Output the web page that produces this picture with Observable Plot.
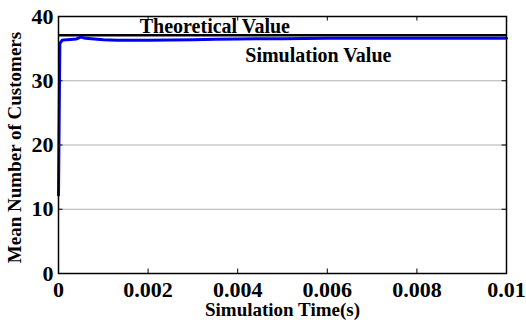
<!DOCTYPE html>
<html><head><meta charset="utf-8">
<script src="https://cdn.jsdelivr.net/npm/d3@7"></script>
<script src="https://cdn.jsdelivr.net/npm/@observablehq/plot@0.6"></script>
<style>
html,body{margin:0;padding:0;background:#fff;}
svg{font-family:"Liberation Serif","Times New Roman",serif;}
</style></head><body><div id="chart"></div>
<script>
const simTime = [0, 0.00003, 0.00008, 0.0002, 0.0004, 0.0005, 0.0006, 0.0008, 0.001, 0.0013, 0.0015, 0.002, 0.0025, 0.003, 0.0035, 0.004, 0.005, 0.006, 0.007, 0.008, 0.009, 0.01];
const simValue = [12.2, 35.8, 36.3, 36.4, 36.5, 36.8, 36.6, 36.5, 36.4, 36.3, 36.3, 36.3, 36.35, 36.4, 36.45, 36.5, 36.55, 36.6, 36.6, 36.6, 36.6, 36.6];
const theoreticalValue = 37.1;
const xTicks = [0, 0.002, 0.004, 0.006, 0.008, 0.01];
const yTicks = [0, 10, 20, 30, 40];
const gridValues = [10, 20, 30];
const xTitle = "Simulation Time(s)";
const yTitle = "Mean Number of Customers";

const sim = simTime.map((t, i) => ({t, v: simValue[i]}));
const fmtX = d => d === 0 ? "0" : String(+d.toFixed(3));
const serif = "Liberation Serif, Times New Roman, serif";

const chart = Plot.plot({
  width: 526, height: 323,
  marginLeft: 58, marginRight: 20, marginTop: 16, marginBottom: 50,
  style: {fontFamily: serif, color: "#000"},
  x: {domain: [0, 0.01], axis: null},
  y: {domain: [0, 40], axis: null},
  marks: [
    Plot.ruleY(gridValues, {stroke: "#b0b0b0", strokeWidth: 1}),
    Plot.ruleX(xTicks, {y1: 0, y2: 0.7, stroke: "#000"}),
    Plot.ruleX(xTicks, {y1: 39.3, y2: 40, stroke: "#000"}),
    Plot.ruleY(yTicks, {x1: 0, x2: 0.0001, stroke: "#000"}),
    Plot.ruleY(yTicks, {x1: 0.0099, x2: 0.01, stroke: "#000"}),
    Plot.ruleY([theoreticalValue], {stroke: "#000", strokeWidth: 2.5}),
    Plot.line(sim, {x: "t", y: "v", stroke: "#0000f0", strokeWidth: 3}),
    Plot.frame({stroke: "#000", strokeWidth: 1.5}),
    Plot.text(["Theoretical Value"], {x: 0.00349, y: 38.5, text: d => d, fontSize: 20, fontWeight: "bold", fill: "#000"}),
    Plot.text(["Simulation Value"], {x: 0.0058, y: 33.85, text: d => d, fontSize: 20, fontWeight: "bold", fill: "#000"}),
    Plot.axisX(xTicks, {tickSize: 0, tickPadding: 8, fontSize: 22, fontWeight: "bold", tickFormat: fmtX, fill: "#000", label: null}),
    Plot.axisY(yTicks, {tickSize: 0, tickPadding: 5, fontSize: 22, fontWeight: "bold", fill: "#000", label: null}),
    Plot.text([xTitle], {frameAnchor: "bottom", lineAnchor: "middle", textAnchor: "middle", dy: 36, text: d => d, fontSize: 19, fontWeight: "bold", fill: "#000"}),
    Plot.text([yTitle], {frameAnchor: "left", lineAnchor: "middle", textAnchor: "middle", dx: -43.5, dy: 2.5, rotate: -90, text: d => d, fontSize: 19, fontWeight: "bold", fill: "#000"})
  ]
});
document.getElementById("chart").appendChild(chart);
</script></body></html>
